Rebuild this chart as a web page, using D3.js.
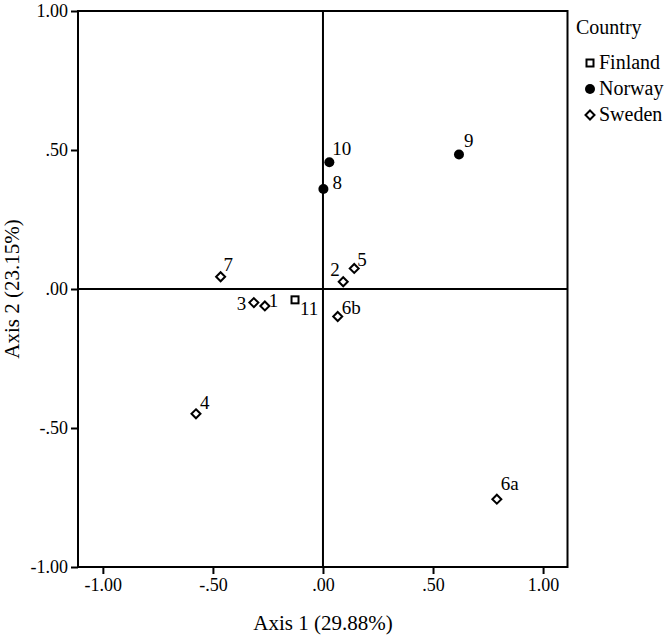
<!DOCTYPE html>
<html>
<head>
<meta charset="utf-8">
<script src="https://cdn.jsdelivr.net/npm/d3@7"></script>
<style>
  body { margin: 0; background: #fff; }
  text { font-family: "Liberation Serif", "Times New Roman", serif; fill: #000; }
</style>
</head>
<body>
<svg width="672" height="639"></svg>
<script>
// point labels, country and coordinates
var labels = ["1", "2", "3", "4", "5", "6a", "6b", "7", "8", "9", "10", "11"];
var country = ["Sweden", "Sweden", "Sweden", "Sweden", "Sweden", "Sweden", "Sweden", "Sweden", "Norway", "Norway", "Norway", "Finland"];
var axis1 = [-0.264, 0.092, -0.314, -0.577, 0.142, 0.790, 0.067, -0.465, 0.002, 0.618, 0.029, -0.127];
var axis2 = [-0.061, 0.026, -0.049, -0.449, 0.074, -0.756, -0.099, 0.044, 0.360, 0.484, 0.456, -0.039];
var countries = ["Finland", "Norway", "Sweden"];
var ticks = [-1, -0.5, 0, 0.5, 1];

// where each label sits next to its point (px)
var labelOffset = {
  "1": [4, 1], "2": [-13, -6], "3": [-17, 7], "4": [4, -5], "5": [3, -2],
  "6a": [4, -9], "6b": [4, -3], "7": [3, -6], "8": [9, 0], "9": [5, -7],
  "10": [3, -7], "11": [5, 15]
};

var svg = d3.select("svg");

var x = d3.scaleLinear().domain([-1.113, 1.111]).range([78, 567.5]),
    y = d3.scaleLinear().domain([-1, 1]).range([567, 11]);

var fmt = function(d) {
  return d3.format(".2f")(d).replace("\u2212", "-").replace(/^(-?)0\./, "$1.");
};

// frame
svg.append("rect")
    .attr("x", x.range()[0]).attr("y", y.range()[1])
    .attr("width", x.range()[1] - x.range()[0])
    .attr("height", y.range()[0] - y.range()[1])
    .attr("fill", "none").attr("stroke", "#000").attr("stroke-width", 2);

// zero reference lines
svg.append("line")
    .attr("x1", x(0)).attr("x2", x(0))
    .attr("y1", y.range()[0]).attr("y2", y.range()[1])
    .attr("stroke", "#000").attr("stroke-width", 2);
svg.append("line")
    .attr("x1", x.range()[0]).attr("x2", x.range()[1])
    .attr("y1", y(0)).attr("y2", y(0))
    .attr("stroke", "#000").attr("stroke-width", 2);

var xAxis = svg.append("g")
    .attr("transform", "translate(0," + y.range()[0] + ")")
    .call(d3.axisBottom(x).tickValues(ticks).tickFormat(fmt).tickSize(7).tickPadding(4));
var yAxis = svg.append("g")
    .attr("transform", "translate(" + x.range()[0] + ",0)")
    .call(d3.axisLeft(y).tickValues(ticks).tickFormat(fmt).tickSize(7).tickPadding(3));

[xAxis, yAxis].forEach(function(a) {
  a.select(".domain").remove();
  a.selectAll(".tick line").attr("stroke", "#000").attr("stroke-width", 2);
  a.selectAll(".tick text")
      .style("font-family", "Liberation Serif")
      .style("font-size", "18px");
});

svg.append("text")
    .attr("x", x(0)).attr("y", 630)
    .attr("text-anchor", "middle")
    .style("font-size", "21px")
    .text("Axis 1 (29.88%)");

svg.append("text")
    .attr("transform", "translate(19," + y(0) + ") rotate(-90)")
    .attr("text-anchor", "middle")
    .style("font-size", "21px")
    .text("Axis 2 (23.15%)");

function marker(sel, c) {
  if (c === "Norway") {
    sel.append("circle").attr("r", 5).attr("fill", "#000");
  } else if (c === "Finland") {
    sel.append("rect").attr("x", -3.5).attr("y", -3.5).attr("width", 7).attr("height", 7)
        .attr("fill", "#fff").attr("stroke", "#000").attr("stroke-width", 2);
  } else {
    sel.append("path").attr("d", "M0,-4.5L4.5,0L0,4.5L-4.5,0Z")
        .attr("fill", "#fff").attr("stroke", "#000").attr("stroke-width", 2);
  }
}

var pts = svg.append("g").selectAll("g")
    .data(labels)
    .enter().append("g")
    .attr("transform", function(d, i) { return "translate(" + x(axis1[i]) + "," + y(axis2[i]) + ")"; });

pts.each(function(d, i) { marker(d3.select(this), country[i]); });

pts.append("text")
    .attr("x", function(d) { return labelOffset[d][0]; })
    .attr("y", function(d) { return labelOffset[d][1]; })
    .style("font-size", "19px")
    .text(function(d) { return d; });

// legend
var legend = svg.append("g");
legend.append("text")
    .attr("x", 576).attr("y", 34)
    .style("font-size", "20px")
    .text("Country");

var items = legend.selectAll("g.item")
    .data(countries)
    .enter().append("g")
    .attr("class", "item")
    .attr("transform", function(d, i) { return "translate(590," + (63 + i * 26) + ")"; });

items.each(function(d) { marker(d3.select(this), d); });

items.append("text")
    .attr("x", 9).attr("y", 6)
    .style("font-size", "20px")
    .text(function(d) { return d; });
</script>
</body>
</html>
